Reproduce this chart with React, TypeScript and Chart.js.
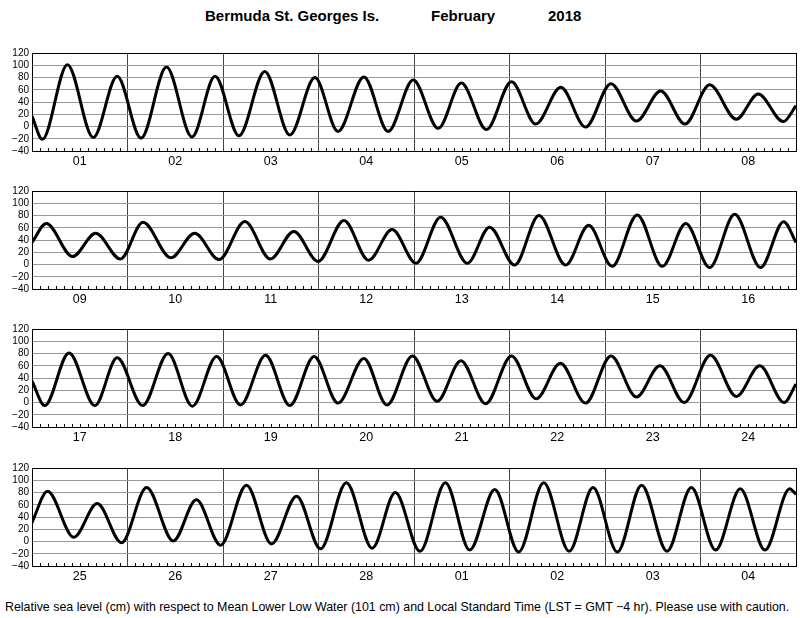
import React, { useEffect, useRef } from 'react';
import { Chart, registerables } from 'chart.js';
Chart.register(...registerables);

// ---- data (hours from start of each 8-day panel, sea level in cm) ----
const panel1Days = ['01', '02', '03', '04', '05', '06', '07', '08'];
const panel1Hours = [0, 2.6, 8.9, 15.4, 21.4, 27.4, 33.8, 40.2, 46.0, 52.0, 58.5, 64.8, 71.1, 76.9, 83.4, 89.5, 95.8, 102.1, 107.9, 114.2, 120.5, 126.6, 132.9, 139.1, 145.5, 151.9, 158.0, 164.1, 170.3, 177.0, 182.5, 188.8, 192];
const panel1Levels = [17, -21, 101, -18, 82, -19, 97, -17, 82, -15, 90, -14, 80, -8, 81, -8, 76, -3, 71, -5, 73, 4, 64, -1, 70, 9, 58, 4, 68, 12, 53, 8, 34];

const panel2Days = ['09', '10', '11', '12', '13', '14', '15', '16'];
const panel2Hours = [0, 3.6, 10.2, 16.0, 22.2, 27.9, 34.9, 40.9, 47.0, 53.5, 59.9, 65.8, 71.9, 78.4, 84.6, 90.5, 96.5, 102.7, 109.4, 115.0, 121.3, 127.4, 134.1, 139.9, 145.8, 152.1, 158.4, 164.3, 170.3, 176.6, 183.1, 188.9, 192];
const panel2Levels = [36, 67, 13, 51, 9, 69, 11, 51, 8, 70, 9, 54, 5, 72, 7, 57, 2, 77, 2, 61, -1, 80, -1, 64, -3, 81, -3, 67, -5, 82, -5, 70, 36];

const panel3Days = ['17', '18', '19', '20', '21', '22', '23', '24'];
const panel3Hours = [0, 3.2, 9.3, 15.8, 21.4, 27.8, 34.2, 40.3, 46.4, 52.4, 58.7, 64.8, 70.9, 76.9, 83.4, 89.2, 95.6, 101.8, 107.8, 114.0, 120.5, 126.7, 132.8, 139.1, 145.5, 151.9, 157.8, 163.9, 170.5, 177.0, 182.9, 189.0, 192];
const panel3Levels = [35, -5, 81, -5, 73, -5, 80, -6, 75, -4, 77, -5, 75, -1, 72, -4, 76, 2, 68, -2, 76, 6, 64, -1, 76, 9, 60, 0, 77, 10, 60, 0, 30];

const panel4Days = ['25', '26', '27', '28', '01', '02', '03', '04'];
const panel4Hours = [0, 3.9, 10.5, 16.4, 22.5, 28.8, 35.5, 41.3, 47.4, 53.9, 60.2, 66.5, 72.5, 79.0, 85.5, 91.3, 97.5, 103.9, 110.0, 116.3, 122.3, 128.6, 135.0, 141.0, 147.1, 153.2, 159.6, 165.7, 171.8, 178.0, 184.2, 190.4, 192];
const panel4Levels = [31, 82, 7, 62, -2, 88, 1, 68, -6, 92, -4, 74, -12, 96, -11, 80, -16, 96, -14, 85, -17, 96, -16, 88, -17, 92, -16, 88, -14, 86, -14, 86, 77];

const yTicks = [-40, -20, 0, 20, 40, 60, 80, 100, 120];
const titleText = 'Bermuda St. Georges Is.';
const monthText = 'February';
const yearText = '2018';
const footerText = 'Relative sea level (cm) with respect to Mean Lower Low Water (101 cm) and Local Standard Time (LST = GMT \u22124 hr). Please use with caution.';

const FONT = '"Liberation Sans", Arial, Helvetica, sans-serif';

const hourTicks = {
  id: 'hourTicks',
  afterDatasetsDraw(chart: any) {
    const { ctx, chartArea, scales } = chart;
    const xs = scales.x;
    ctx.save();
    ctx.strokeStyle = '#000';
    ctx.lineWidth = 1;
    ctx.beginPath();
    for (let h = 2; h < 192; h += 2) {
      if (h % 24 === 0) continue;
      const px = Math.round(xs.getPixelForValue(h)) + 0.5;
      ctx.moveTo(px, chartArea.bottom);
      ctx.lineTo(px, chartArea.bottom - 3);
    }
    ctx.stroke();
    ctx.restore();
  },
};

function Panel({ top, hours, levels, days }: { top: number; hours: number[]; levels: number[]; days: string[] }) {
  const ref = useRef<HTMLCanvasElement>(null);
  useEffect(() => {
    const data = hours.map((h, i) => ({ x: h, y: levels[i] }));
    const chart = new Chart(ref.current as HTMLCanvasElement, {
      type: 'line',
      data: {
        datasets: [
          {
            data,
            borderColor: '#000',
            borderWidth: 3,
            pointRadius: 0,
            cubicInterpolationMode: 'monotone',
            fill: false,
          },
        ],
      },
      options: {
        animation: false,
        responsive: false,
        devicePixelRatio: 1,
        events: [],
        layout: { padding: { top: 8, right: 4, left: 0, bottom: 0 } },
        plugins: { legend: { display: false }, tooltip: { enabled: false }, title: { display: false } },
        scales: {
          x: {
            type: 'linear',
            min: 0,
            max: 192,
            afterFit: (s: any) => { s.height = 22; },
            afterBuildTicks: (s: any) => {
              const t = [];
              for (let h = 0; h <= 192; h += 2) t.push({ value: h });
              s.ticks = t;
            },
            ticks: {
              autoSkip: false,
              maxRotation: 0,
              padding: 3,
              color: '#000',
              font: { family: FONT, size: 12.5 },
              callback: (v: any) => {
                const n = Number(v);
                return n % 24 === 12 ? days[(n - 12) / 24] : '';
              },
            },
            grid: {
              drawTicks: false,
              lineWidth: 1,
              color: (c: any) => (c.tick && c.tick.value % 24 === 0 ? (c.tick.value === 0 || c.tick.value === 192 ? '#000' : '#444') : 'rgba(0,0,0,0)'),
            },
            border: { display: true, color: '#000', width: 1 },
          },
          y: {
            min: -40,
            max: 120,
            afterFit: (s: any) => { s.width = 32; },
            afterBuildTicks: (s: any) => { s.ticks = yTicks.map((v) => ({ value: v })); },
            ticks: {
              autoSkip: false,
              padding: 3,
              color: '#000',
              font: { family: FONT, size: 10 },
              callback: (v: any) => String(v).replace('-', '\u2212'),
            },
            grid: {
              drawTicks: false,
              lineWidth: 1,
              color: (c: any) => (c.tick && c.tick.value === 120 ? '#000' : '#999'),
            },
            border: { display: true, color: '#000', width: 1 },
          },
        },
      },
      plugins: [hourTicks],
    } as any);
    return () => chart.destroy();
  }, []);
  return (
    <canvas
      ref={ref}
      width={800}
      height={129}
      style={{ position: 'absolute', left: 0, top, width: 800, height: 129 }}
    />
  );
}

export default function App() {
  return (
    <div style={{ position: 'absolute', left: 0, top: 0, width: 800, height: 618, background: '#fff', fontFamily: FONT, color: '#000' }}>
      <span style={{ position: 'absolute', left: 205, top: 8, fontSize: 15, lineHeight: '16px', fontWeight: 'bold', whiteSpace: 'nowrap' }}>{titleText}</span>
      <span style={{ position: 'absolute', left: 431, top: 8, fontSize: 15, lineHeight: '16px', fontWeight: 'bold', whiteSpace: 'nowrap' }}>{monthText}</span>
      <span style={{ position: 'absolute', left: 548, top: 8, fontSize: 15, lineHeight: '16px', fontWeight: 'bold', whiteSpace: 'nowrap' }}>{yearText}</span>
      <Panel top={44} hours={panel1Hours} levels={panel1Levels} days={panel1Days} />
      <Panel top={182} hours={panel2Hours} levels={panel2Levels} days={panel2Days} />
      <Panel top={320} hours={panel3Hours} levels={panel3Levels} days={panel3Days} />
      <Panel top={459} hours={panel4Hours} levels={panel4Levels} days={panel4Days} />
      <span style={{ position: 'absolute', left: 5, top: 600, fontSize: 12.4, lineHeight: '14px', whiteSpace: 'nowrap' }}>{footerText}</span>
    </div>
  );
}
